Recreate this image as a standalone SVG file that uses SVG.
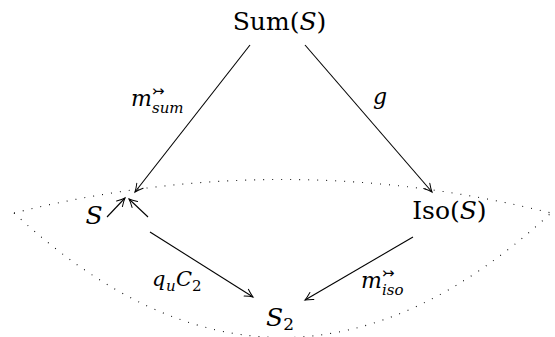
<svg xmlns="http://www.w3.org/2000/svg" width="555" height="337" viewBox="0 0 555 337">
<defs>
<marker id="ah" viewBox="-10 -6 12 12" markerWidth="12" markerHeight="12" refX="0" refY="0" orient="auto" markerUnits="userSpaceOnUse">
<path d="M -8,-4 Q -3,-1 0,0 Q -3,1 -8,4" fill="none" stroke="#000" stroke-width="1" stroke-linecap="round"/>
</marker>
<style>
.edge { stroke: #000; stroke-width: 1.1; fill: none; marker-end: url(#ah); }
.dot { stroke: #000; stroke-width: 1.1; fill: none; stroke-dasharray: 0.9 8.1; }
.t { font-family: 'DejaVu Serif', serif; fill: #000; }
</style>
</defs>
<g id="region">
<path class="dot" d="M 14,213 Q 282,146 551,213"/>
<path class="dot" d="M 14,213 Q 282,462 551,213"/>
</g>
<g id="connectors">
<line class="edge" x1="250" y1="45" x2="135" y2="192"/>
<line class="edge" x1="305" y1="45" x2="432" y2="192"/>
<line class="edge" x1="150" y1="232" x2="253" y2="297"/>
<line class="edge" x1="413" y1="237" x2="305" y2="300"/>
<line class="edge" x1="107" y1="217" x2="125" y2="198"/>
<line class="edge" x1="148" y1="217" x2="129" y2="199"/>
</g>
<g class="t">
<g id="labels">
<g id="label-msum">
<text font-size="22" font-style="italic" x="131" y="106">m</text>
<text font-family="DejaVu Sans, sans-serif" font-size="15" x="152" y="96">↣</text>
<text font-size="15" font-style="italic" x="152" y="113">sum</text>
</g>
<g id="label-g"><text font-size="22" font-style="italic" x="373" y="104">g</text></g>
<g id="label-quC2">
<text font-size="21" font-style="italic" x="152" y="286">q</text>
<text font-size="15" font-style="italic" x="166" y="291">u</text>
<text font-size="21" font-style="italic" x="176" y="286">C</text>
<text font-size="15" x="192" y="291">2</text>
</g>
<g id="label-miso">
<text font-size="22" font-style="italic" x="361" y="288">m</text>
<text font-family="DejaVu Sans, sans-serif" font-size="15" x="382" y="278">↣</text>
<text font-size="15" font-style="italic" x="382" y="295">iso</text>
</g>
</g>
<g id="node-sum"><text font-size="25" x="279.5" y="29.5" text-anchor="middle">Sum(<tspan font-style="italic">S</tspan>)</text></g>
<g id="node-S"><text font-size="25" font-style="italic" x="94" y="224" text-anchor="middle">S</text></g>
<g id="node-iso"><text font-size="25" x="449.4" y="219" text-anchor="middle">Iso(<tspan font-style="italic">S</tspan>)</text></g>
<g id="node-S2"><text font-size="25" x="266" y="325.5"><tspan font-style="italic">S</tspan><tspan font-size="17" dy="4">2</tspan></text></g>
</g>
</svg>
